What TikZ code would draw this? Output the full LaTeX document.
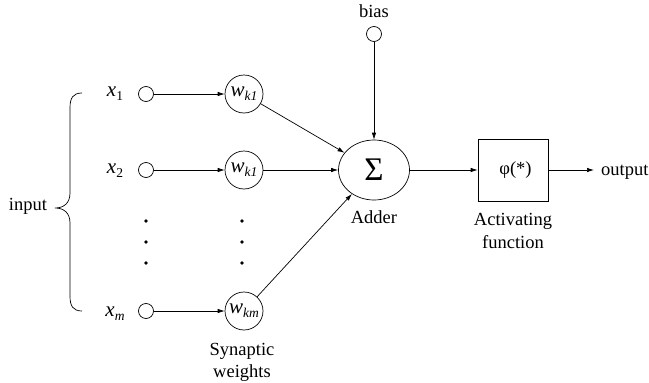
\documentclass[tikz,border=0pt]{standalone}
\usepackage{fontspec}
\setmainfont{Liberation Serif}
\usetikzlibrary{arrows.meta,shapes.geometric}
\newcommand{\sbs}[1]{\raisebox{-0.45ex}{\fontsize{13.5}{13.5}\selectfont #1}}
\newcommand{\vv}[1]{{\fontsize{21}{21}\selectfont\itshape #1}}
\begin{document}
\begin{tikzpicture}[x=1pt,y=-1pt,font=\fontsize{18.5}{22}\selectfont,
  ln/.style={line width=0.7pt},
  arr/.style={ln,-{Latex[length=7pt,width=4.5pt]}},
  inp/.style={circle,draw,ln,minimum size=15pt,inner sep=0pt},
  wgt/.style={circle,draw,ln,minimum size=38pt,inner sep=0pt},
  dotn/.style={circle,fill,minimum size=3.6pt,inner sep=0pt},
  lbl/.style={inner sep=0pt}]
\useasboundingbox (0,0) rectangle (649,383);
% labels
\node[lbl,anchor=mid] (inlbl) at (28,208) {input};
\node[lbl,anchor=mid] (xl1) at (115,94) {\vv{x}\sbs{1}};
\node[lbl,anchor=mid] (xl2) at (115,171) {\vv{x}\sbs{2}};
\node[lbl,anchor=mid] (xlm) at (115,314) {\vv{x}\sbs{\textit{m}}};
% input circles
\node[inp] (c1) at (146,94) {};
\node[inp] (c2) at (146,170) {};
\node[inp] (cm) at (146,311) {};
% weights
\node[wgt] (w1) at (244,94) {\vv{w}\sbs{\textit{k1}}};
\node[wgt] (w2) at (244,170) {\vv{w}\sbs{\textit{k1}}};
\node[wgt] (wm) at (244,311) {\vv{w}\sbs{\textit{km}}};
% dots
\foreach \yy [count=\i] in {221,242,263}{
  \node[dotn] (da\i) at (146,\yy) {};
  \node[dotn] (db\i) at (242,\yy) {};
}
% adder
\node[ellipse,draw,ln,minimum width=71pt,minimum height=60pt,inner sep=0pt] (sum) at (374,170) {\fontsize{33}{33}\selectfont Σ};
\node[inp] (bias) at (374,34) {};
\node[lbl,anchor=base] (biaslbl) at (374,17) {bias};
\node[lbl,anchor=base] (adder) at (374,223) {Adder};
% activation
\node[draw,ln,minimum width=70pt,minimum height=62pt,inner sep=0pt] (box) at (513,170) {\hspace*{5pt}φ(*)};
\node[lbl,anchor=base] (act1) at (513,225) {Activating};
\node[lbl,anchor=base] (act2) at (513,248) {function};
\node[lbl,anchor=base west] (outlbl) at (601,175) {output};
\coordinate (outend) at (594,170);
% synaptic
\node[lbl,anchor=base] (syn1) at (242,355) {Synaptic};
\node[lbl,anchor=base] (syn2) at (242,377) {weights};
% connectors
\draw[arr] (c1) -- (w1);
\draw[arr] (c2) -- (w2);
\draw[arr] (cm) -- (wm);
\draw[arr] (w1) -- (sum);
\draw[arr] (w2) -- (sum);
\draw[arr] (wm) -- (sum);
\draw[arr] (bias) -- (sum);
\draw[arr] (sum) -- (box);
\draw[arr] (box.east) -- (outend);
% brace
\draw[ln] (82,93) .. controls (73,93) and (70,98) .. (70,108) -- (70,193)
  .. controls (70,203) and (64,208) .. (55,208)
  .. controls (64,208) and (70,213) .. (70,223) -- (70,296)
  .. controls (70,306) and (73,311) .. (82,311);
\end{tikzpicture}
\end{document}
